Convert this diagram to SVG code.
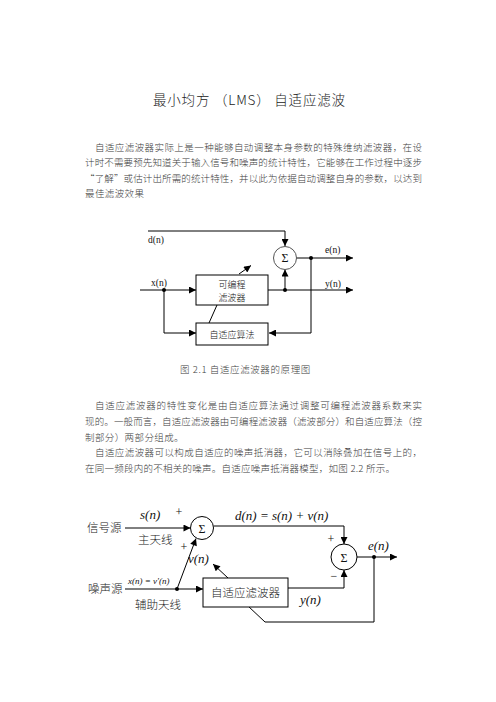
<svg xmlns="http://www.w3.org/2000/svg" width="496" height="702" viewBox="0 0 496 702">
<style>
.bg{fill:#fff}
.t{font-family:"Noto Sans CJK SC","Noto Sans",sans-serif;fill:#3c3c3c;font-size:9.5px;font-weight:300}
.title{font-family:"Noto Sans CJK SC","Noto Sans",sans-serif;fill:#222;font-size:13.5px;font-weight:300}
.ln{fill:none;stroke:#000;stroke-width:1}
.box{fill:#fff;stroke:#000;stroke-width:1}
.dot{fill:#000}
.lab{font-family:"Liberation Serif",serif;font-size:9.5px;fill:#111}
.cj{font-family:"Noto Sans CJK SC",sans-serif;font-size:9px;fill:#111;font-weight:300}
.m{font-family:"Liberation Serif",serif;font-style:italic;font-size:13px;fill:#111}
.cj2{font-family:"Noto Sans CJK SC",sans-serif;font-size:11.5px;fill:#222;font-weight:300}
.sg{font-family:"Liberation Serif",serif;font-size:12px;fill:#111}
</style>
<defs>
<marker id="ah" viewBox="0 0 10 10" refX="10" refY="5" markerWidth="9" markerHeight="7" markerUnits="userSpaceOnUse" orient="auto"><path d="M0,0 L10,5 L0,10 z" fill="#000"/></marker>
</defs>
<rect class="bg" width="496" height="702"/>

<text class="title" x="153" y="105" textLength="192" lengthAdjust="spacing">最小均方 （LMS） 自适应滤波</text>

<g id="para1">
<text class="t" x="95" y="151" textLength="327" lengthAdjust="spacing">自适应滤波器实际上是一种能够自动调整本身参数的特殊维纳滤波器，在设</text>
<text class="t" x="85" y="166" textLength="337" lengthAdjust="spacing">计时不需要预先知道关于输入信号和噪声的统计特性，它能够在工作过程中逐步</text>
<text class="t" x="85" y="182" textLength="337" lengthAdjust="spacing">“了解”或估计出所需的统计特性，并以此为依据自动调整自身的参数，以达到</text>
<text class="t" x="85" y="197" letter-spacing="0.4">最佳滤波效果</text>
</g>

<g id="connectors1">
<path class="ln" d="M148,231 H285 V246" marker-end="url(#ah)"/>
<path class="ln" d="M296.5,258 H353" marker-end="url(#ah)"/>
<path class="ln" d="M268,290 H353" marker-end="url(#ah)"/>
<path class="ln" d="M285,290 V269.5" marker-end="url(#ah)"/>
<path class="ln" d="M311,258 V333 H269" marker-end="url(#ah)"/>
<path class="ln" d="M140,290 H196" marker-end="url(#ah)"/>
<path class="ln" d="M164,290 V333 H196" marker-end="url(#ah)"/>
<path class="ln" d="M209,323 L217,305"/>
<path class="ln" d="M239,274 L251,265.5" marker-end="url(#ah)"/>
<circle class="dot" cx="311" cy="258" r="2"/>
<circle class="dot" cx="285" cy="290" r="2"/>
<circle class="dot" cx="164" cy="290" r="2"/>
</g>
<g id="sum1">
<circle cx="285" cy="258" r="11.5" fill="#fff" stroke="#555" stroke-width="1"/>
<text class="sg" x="285" y="262" text-anchor="middle">Σ</text>
</g>
<g id="filter1">
<rect class="box" x="196" y="275" width="72" height="30"/>
<text class="cj" x="232" y="288" text-anchor="middle">可编程</text>
<text class="cj" x="232" y="301" text-anchor="middle">滤波器</text>
</g>
<g id="algo1">
<rect class="box" x="196" y="323" width="72" height="22"/>
<text class="cj" x="232" y="337.5" text-anchor="middle">自适应算法</text>
</g>
<g id="labels1">
<text class="lab" x="148" y="243">d(n)</text>
<text class="lab" x="151" y="286">x(n)</text>
<text class="lab" x="325" y="253">e(n)</text>
<text class="lab" x="325" y="287">y(n)</text>
</g>

<text class="t" x="180" y="373" letter-spacing="0.6">图 2.1  自适应滤波器的原理图</text>

<g id="para2">
<text class="t" x="95" y="409" textLength="327" lengthAdjust="spacing">自适应滤波器的特性变化是由自适应算法通过调整可编程滤波器系数来实</text>
<text class="t" x="85" y="425" textLength="337" lengthAdjust="spacing">现的。一般而言，自适应滤波器由可编程滤波器（滤波部分）和自适应算法（控</text>
<text class="t" x="85" y="441" letter-spacing="0.4">制部分）两部分组成。</text>
<text class="t" x="95" y="456" textLength="327" lengthAdjust="spacing">自适应滤波器可以构成自适应的噪声抵消器，它可以消除叠加在信号上的，</text>
<text class="t" x="85" y="472" textLength="310" lengthAdjust="spacing">在同一频段内的不相关的噪声。自适应噪声抵消器模型，如图 2.2 所示。</text>
</g>

<g id="connectors2">
<path class="ln" d="M125,528 H190.5" marker-end="url(#ah)"/>
<path class="ln" d="M213.5,526 H344 V544" marker-end="url(#ah)"/>
<path class="ln" d="M357,557 H397" marker-end="url(#ah)"/>
<path class="ln" d="M288,588 H344 V570" marker-end="url(#ah)"/>
<path class="ln" d="M374,557 V622 H265 L248,606"/>
<path class="ln" d="M228,578 L213,564" marker-end="url(#ah)"/>
<path class="ln" d="M125,589 H203" marker-end="url(#ah)"/>
<path class="ln" d="M177,589 L196,538.5" marker-end="url(#ah)"/>
<circle class="dot" cx="374" cy="557" r="2"/>
<circle class="dot" cx="177" cy="589" r="2"/>
</g>
<g id="sum2a">
<circle cx="202" cy="528" r="11.5" fill="#fff" stroke="#000" stroke-width="1"/>
<text class="sg" x="202" y="532.5" text-anchor="middle">Σ</text>
</g>
<g id="sum2b">
<circle cx="344" cy="557" r="13" fill="#fff" stroke="#000" stroke-width="1"/>
<text class="sg" x="344" y="561.5" text-anchor="middle">Σ</text>
</g>
<g id="filter2">
<rect class="box" x="203" y="578" width="85" height="29"/>
<text class="cj2" x="245.5" y="596.5" text-anchor="middle">自适应滤波器</text>
</g>
<g id="labels2">
<text class="cj2" x="87" y="531.5">信号源</text>
<text class="cj2" x="88" y="593">噪声源</text>
<text class="cj2" x="138" y="544">主天线</text>
<text class="cj2" x="135" y="609">辅助天线</text>
<text class="m" x="140" y="519">s(n)</text>
<text class="sg" x="179" y="516" text-anchor="middle">+</text>
<text class="sg" x="184" y="551" text-anchor="middle">+</text>
<text class="m" x="235" y="520">d(n) = s(n) + v(n)</text>
<text class="sg" x="331" y="543" text-anchor="middle">+</text>
<text class="sg" x="334" y="580" text-anchor="middle">−</text>
<text class="m" x="368" y="550">e(n)</text>
<text class="m" x="300" y="604">y(n)</text>
<text class="m" x="188" y="563">v(n)</text>
<text class="m" x="128" y="584" style="font-size:9px">x(n) = v'(n)</text>
</g>
</svg>
